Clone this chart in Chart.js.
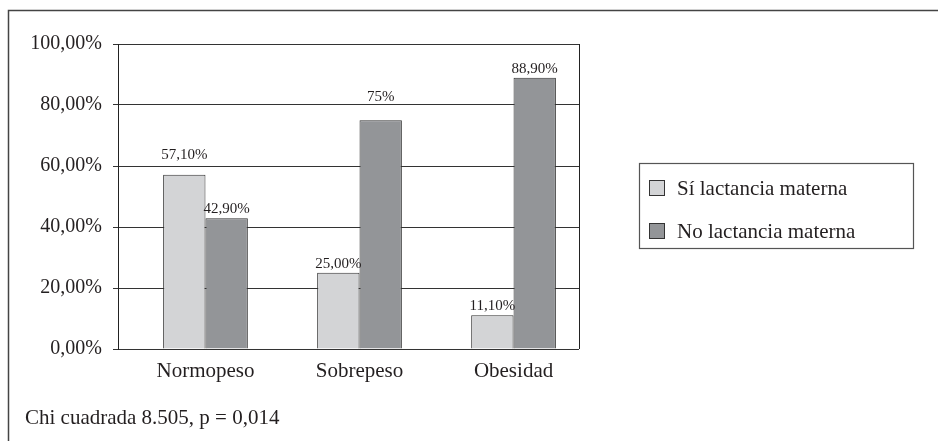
<!DOCTYPE html>
<html lang="es">
<head>
<meta charset="utf-8">
<title>Lactancia materna y estado nutricional</title>
<script src="https://cdn.jsdelivr.net/npm/chart.js@4.4.1/dist/chart.umd.min.js"></script>
<style>
    html, body { margin: 0; padding: 0; background: #fff; }
    #wrap { width: 938px; height: 441px; }
</style>
</head>
<body>
<div id="wrap"><canvas id="lactanciaChart" width="938" height="441"></canvas></div>
<script>
// Datos
const categorias = ['Normopeso', 'Sobrepeso', 'Obesidad'];
const siLactancia = [57.1, 25.0, 11.1];
const noLactancia = [42.9, 75.0, 88.9];
const etiquetasSi = ['57,10%', '25,00%', '11,10%'];
const etiquetasNo = ['42,90%', '75%', '88,90%'];
const ticksY = [0, 20, 40, 60, 80, 100];
const nombresSeries = ['Sí lactancia materna', 'No lactancia materna'];
const nota = 'Chi cuadrada 8.505, p = 0,014';

document.addEventListener('DOMContentLoaded', function() {
    const SERIF = '"Liberation Serif", "Times New Roman", serif';
    const TEXTO = '#231f20';
    const colores = ['#d3d4d6', '#939598'];

    // Etiquetas de valor encima de cada barra
    const etiquetasValor = {
        id: 'etiquetasValor',
        afterDatasetsDraw(chart) {
            const ctx = chart.ctx;
            const textos = [etiquetasSi, etiquetasNo];
            // algunas etiquetas suben para no pisar la cuadrícula
            const subir = { '0-0': 11, '1-1': 14 };
            ctx.save();
            ctx.font = '15px ' + SERIF;
            ctx.fillStyle = TEXTO;
            ctx.textAlign = 'center';
            ctx.textBaseline = 'alphabetic';
            chart.data.datasets.forEach((ds, d) => {
                chart.getDatasetMeta(d).data.forEach((bar, i) => {
                    const extra = subir[d + '-' + i] || 0;
                    ctx.fillText(textos[d][i], bar.x, bar.y - 5 - extra);
                });
            });
            ctx.restore();
        }
    };

    // Marco, borde derecho del área, leyenda y nota
    const decoracion = {
        id: 'decoracion',
        afterDraw(chart) {
            const ctx = chart.ctx;
            const area = chart.chartArea;
            ctx.save();

            // marco de la figura (solo arriba e izquierda)
            ctx.strokeStyle = '#444';
            ctx.lineWidth = 1.5;
            ctx.beginPath();
            ctx.moveTo(8.5, 441);
            ctx.lineTo(8.5, 10.5);
            ctx.lineTo(938, 10.5);
            ctx.stroke();

            // borde derecho del área de trazado
            ctx.strokeStyle = '#222';
            ctx.lineWidth = 1;
            ctx.beginPath();
            ctx.moveTo(Math.round(area.right) + 0.5, area.top);
            ctx.lineTo(Math.round(area.right) + 0.5, area.bottom);
            ctx.stroke();

            // leyenda
            ctx.strokeStyle = '#555';
            ctx.lineWidth = 1.2;
            ctx.strokeRect(639.5, 163.5, 274, 85);
            ctx.font = '21px ' + SERIF;
            ctx.textAlign = 'left';
            ctx.textBaseline = 'middle';
            chart.data.datasets.forEach((ds, d) => {
                const y = 180 + d * 43;
                ctx.fillStyle = ds.backgroundColor;
                ctx.fillRect(649.5, y + 0.5, 15, 15);
                ctx.strokeStyle = '#333';
                ctx.lineWidth = 1;
                ctx.strokeRect(649.5, y + 0.5, 15, 15);
                ctx.fillStyle = TEXTO;
                ctx.fillText(ds.label, 677, y + 9);
            });

            // nota estadística
            ctx.textBaseline = 'alphabetic';
            ctx.fillText(nota, 25, 424);
            ctx.restore();
        }
    };

    const ctx = document.getElementById('lactanciaChart').getContext('2d');
    new Chart(ctx, {
        type: 'bar',
        data: {
            datasets: [
                {
                    label: nombresSeries[0],
                    data: categorias.map((c, i) => ({ x: i, y: siLactancia[i] })),
                    backgroundColor: colores[0],
                    borderColor: '#333',
                    borderWidth: 1
                },
                {
                    label: nombresSeries[1],
                    data: categorias.map((c, i) => ({ x: i, y: noLactancia[i] })),
                    backgroundColor: colores[1],
                    borderColor: '#333',
                    borderWidth: 1
                }
            ]
        },
        options: {
            responsive: false,
            animation: false,
            categoryPercentage: 0.55,
            barPercentage: 1,
            layout: { padding: { left: 30, right: 359, top: 44, bottom: 52 } },
            plugins: {
                legend: { display: false },
                tooltip: { enabled: false }
            },
            scales: {
                x: {
                    type: 'linear',
                    min: -0.568,
                    max: 2.425,
                    offset: false,
                    grid: { display: false, drawTicks: false, offset: false },
                    border: { display: false },
                    afterFit: function(scale) { scale.height = 40; },
                    ticks: {
                        stepSize: 1,
                        includeBounds: false,
                        autoSkip: false,
                        maxRotation: 0,
                        padding: 10,
                        color: TEXTO,
                        font: { size: 21, family: SERIF },
                        callback: function(value) {
                            return Number.isInteger(value) ? categorias[value] : '';
                        }
                    }
                },
                y: {
                    min: 0,
                    max: 100,
                    afterFit: function(scale) { scale.width = 88; },
                    afterBuildTicks: function(scale) {
                        scale.ticks = ticksY.map(v => ({ value: v }));
                    },
                    grid: { color: '#333', lineWidth: 1, tickLength: 5, tickColor: '#333' },
                    border: { display: true, color: '#222', width: 1 },
                    ticks: {
                        padding: 11,
                        color: TEXTO,
                        font: { size: 20, family: SERIF },
                        callback: function(value) {
                            return value.toFixed(2).replace('.', ',') + '%';
                        }
                    }
                }
            }
        },
        plugins: [etiquetasValor, decoracion]
    });
});
</script>
</body>
</html>
